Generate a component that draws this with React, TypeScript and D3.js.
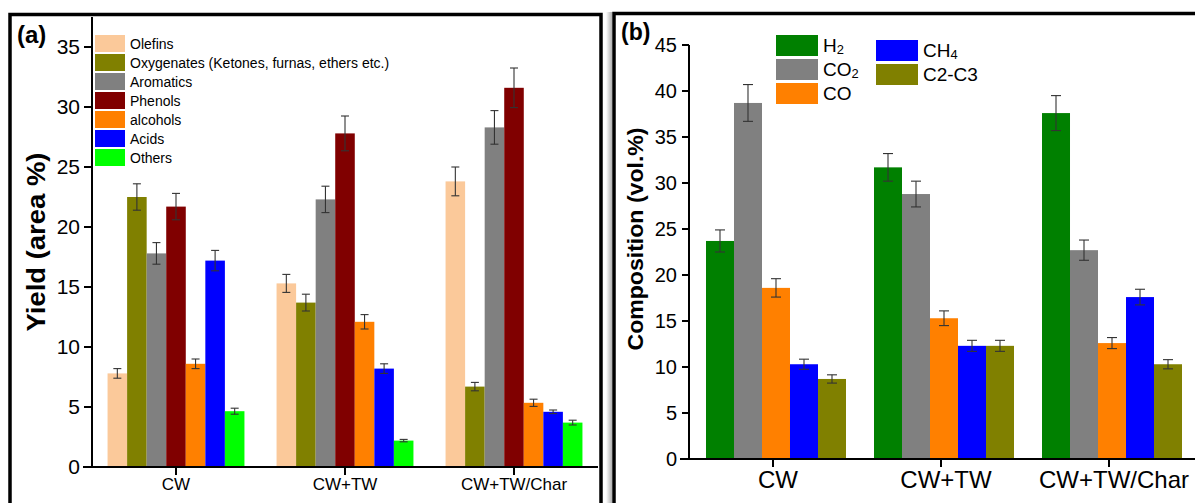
import React from "react";
import * as d3 from "d3";

const groups = ["CW", "CW+TW", "CW+TW/Char"];

const seriesA = [
  "Olefins",
  "Oxygenates (Ketones, furnas, ethers etc.)",
  "Aromatics",
  "Phenols",
  "alcohols",
  "Acids",
  "Others",
];
const colorsA = ["#FBC99A", "#808000", "#808080", "#800000", "#FF8000", "#0000FF", "#00FF00"];
const valuesA = [
  [7.8, 15.3, 23.8],
  [22.5, 13.7, 6.7],
  [17.8, 22.3, 28.3],
  [21.7, 27.8, 31.6],
  [8.6, 12.1, 5.35],
  [17.2, 8.2, 4.6],
  [4.65, 2.2, 3.7],
];
const errA = [
  [0.4, 0.75, 1.2],
  [1.1, 0.7, 0.35],
  [0.9, 1.1, 1.4],
  [1.1, 1.45, 1.65],
  [0.4, 0.6, 0.3],
  [0.85, 0.4, 0.15],
  [0.25, 0.1, 0.2],
];
const ticksA = [0, 5, 10, 15, 20, 25, 30, 35];

const seriesB = ["H2", "CO2", "CO", "CH4", "C2-C3"];
const colorsB = ["#008000", "#808080", "#FF8000", "#0000FF", "#808000"];
const valuesB = [
  [23.7, 31.7, 37.6],
  [38.7, 28.8, 22.7],
  [18.6, 15.3, 12.6],
  [10.3, 12.3, 17.6],
  [8.7, 12.3, 10.3],
];
const errB = [
  [1.2, 1.5, 1.9],
  [2.0, 1.4, 1.1],
  [1.0, 0.8, 0.6],
  [0.55, 0.6, 0.85],
  [0.45, 0.6, 0.5],
];
const ticksB = [0, 5, 10, 15, 20, 25, 30, 35, 40, 45];

const FONT = "'Liberation Sans', Arial, Helvetica, sans-serif";

function label(name: string, size: number) {
  const m = name.match(/^([A-Z]+)(\d)$/);
  if (m) {
    return (
      <>
        {m[1]}
        <tspan fontSize={size * 0.68} dy={2}>
          {m[2]}
        </tspan>
      </>
    );
  }
  return name;
}

function PanelA() {
  const y = d3.scaleLinear().domain([0, 37.5]).range([467, 17]);
  const x0 = d3.scaleBand().domain(groups).range([91.5, 598.5]).paddingInner(0.19).paddingOuter(0.095);
  const x1 = d3.scaleBand().domain(seriesA).range([0, x0.bandwidth()]).padding(0);
  const axisX = 92;
  return (
    <g>
      {seriesA.map((s, si) =>
        groups.map((g, gi) => {
          const v = valuesA[si][gi];
          const e = errA[si][gi];
          const bx = (x0(g) as number) + (x1(s) as number);
          const cx = bx + x1.bandwidth() / 2;
          return (
            <g key={s + g}>
              <rect x={bx} y={y(v)} width={x1.bandwidth()} height={y(0) - y(v)} fill={colorsA[si]} />
              <line x1={cx} x2={cx} y1={y(v - e)} y2={y(v + e)} stroke="#333" strokeWidth={1.1} />
              <line x1={cx - 4} x2={cx + 4} y1={y(v - e)} y2={y(v - e)} stroke="#333" strokeWidth={1.1} />
              <line x1={cx - 4} x2={cx + 4} y1={y(v + e)} y2={y(v + e)} stroke="#333" strokeWidth={1.1} />
            </g>
          );
        })
      )}
      <line x1={axisX} x2={axisX} y1={y(37.5)} y2={y(0)} stroke="#000" strokeWidth={2} />
      {ticksA.map((t) => (
        <g key={t}>
          <line x1={axisX - 8} x2={axisX} y1={y(t)} y2={y(t)} stroke="#000" strokeWidth={2} />
          <text x={axisX - 12} y={y(t) + 7} textAnchor="end" fontSize={21} fontFamily={FONT}>
            {t}
          </text>
        </g>
      ))}
      <line x1={83} x2={598} y1={y(0)} y2={y(0)} stroke="#000" strokeWidth={2} />
      {groups.map((g) => {
        const cx = (x0(g) as number) + x0.bandwidth() / 2;
        return (
          <g key={g}>
            <line x1={cx} x2={cx} y1={y(0)} y2={y(0) + 8} stroke="#000" strokeWidth={2} />
            <text x={cx} y={490} textAnchor="middle" fontSize={17} fontFamily={FONT}>
              {g}
            </text>
          </g>
        );
      })}
      <text
        transform="translate(45,242) rotate(-90)"
        textAnchor="middle"
        fontSize={25}
        fontWeight="bold"
        fontFamily={FONT}
        textLength={179}
        lengthAdjust="spacingAndGlyphs"
      >
        Yield (area %)
      </text>
      {seriesA.map((s, si) => (
        <g key={s}>
          <rect x={95} y={35 + si * 19} width={30} height={17} fill={colorsA[si]} />
          <text x={130} y={35 + si * 19 + 13.5} fontSize={14} fontFamily={FONT}>
            {s}
          </text>
        </g>
      ))}
      <text x={17} y={43} fontSize={24} fontWeight="bold" fontFamily={FONT}>
        (a)
      </text>
      <rect x={10} y={14.5} width={591} height={600} fill="none" stroke="#000" strokeWidth={3.5} />
    </g>
  );
}

function PanelB() {
  const y = d3.scaleLinear().domain([0, 45]).range([459, 45]);
  const x0 = d3.scaleBand().domain(groups).range([692, 1196]).paddingInner(0.1667).paddingOuter(0.0833);
  const x1 = d3.scaleBand().domain(seriesB).range([0, x0.bandwidth()]).padding(0);
  const axisX = 689;
  const legendPos = [
    { x: 776, y: 35 },
    { x: 776, y: 59 },
    { x: 776, y: 83 },
    { x: 876, y: 40 },
    { x: 876, y: 64 },
  ];
  return (
    <g>
      <defs>
        <linearGradient id="shadowB" x1="0" x2="1" y1="0" y2="0">
          <stop offset="0" stopColor="#ffffff" />
          <stop offset="1" stopColor="#b0b0b0" />
        </linearGradient>
      </defs>
      <rect x={606} y={12} width={6} height={600} fill="url(#shadowB)" />
      {seriesB.map((s, si) =>
        groups.map((g, gi) => {
          const v = valuesB[si][gi];
          const e = errB[si][gi];
          const bx = (x0(g) as number) + (x1(s) as number);
          const cx = bx + x1.bandwidth() / 2;
          return (
            <g key={s + g}>
              <rect x={bx} y={y(v)} width={x1.bandwidth()} height={y(0) - y(v)} fill={colorsB[si]} />
              <line x1={cx} x2={cx} y1={y(v - e)} y2={y(v + e)} stroke="#333" strokeWidth={1.1} />
              <line x1={cx - 5} x2={cx + 5} y1={y(v - e)} y2={y(v - e)} stroke="#333" strokeWidth={1.1} />
              <line x1={cx - 5} x2={cx + 5} y1={y(v + e)} y2={y(v + e)} stroke="#333" strokeWidth={1.1} />
            </g>
          );
        })
      )}
      <line x1={axisX} x2={axisX} y1={y(45)} y2={y(0)} stroke="#000" strokeWidth={2} />
      {ticksB.map((t) => (
        <g key={t}>
          <line x1={axisX - 7} x2={axisX} y1={y(t)} y2={y(t)} stroke="#000" strokeWidth={2} />
          <text x={axisX - 12} y={y(t) + 7} textAnchor="end" fontSize={20} fontFamily={FONT}>
            {t}
          </text>
        </g>
      ))}
      <line x1={680} x2={1195} y1={y(0)} y2={y(0)} stroke="#000" strokeWidth={2} />
      {groups.map((g) => {
        const cx = (x0(g) as number) + x0.bandwidth() / 2;
        return (
          <g key={g}>
            <line x1={cx - 3} x2={cx - 3} y1={y(0)} y2={y(0) + 8} stroke="#000" strokeWidth={2} />
            <text x={cx + 2} y={488} textAnchor="middle" fontSize={24} fontFamily={FONT}>
              {g}
            </text>
          </g>
        );
      })}
      <text
        transform="translate(643,239) rotate(-90)"
        textAnchor="middle"
        fontSize={22}
        fontWeight="bold"
        fontFamily={FONT}
        textLength={223}
        lengthAdjust="spacingAndGlyphs"
      >
        Composition (vol.%)
      </text>
      {seriesB.map((s, si) => (
        <g key={s}>
          <rect x={legendPos[si].x} y={legendPos[si].y} width={42} height={21} fill={colorsB[si]} />
          <text x={legendPos[si].x + 47} y={legendPos[si].y + 17} fontSize={19} fontFamily={FONT}>
            {label(s, 19)}
          </text>
        </g>
      ))}
      <text x={621} y={40} fontSize={23} fontWeight="bold" fontFamily={FONT}>
        (b)
      </text>
      <rect x={614} y={13.5} width={700} height={600} fill="none" stroke="#000" strokeWidth={3.5} />
    </g>
  );
}

export default function App() {
  return (
    <svg
      width={1195}
      height={503}
      viewBox="0 0 1195 503"
      style={{ position: "absolute", left: 0, top: 0, background: "#fff" }}
    >
      <rect x={0} y={0} width={1195} height={503} fill="#fff" />
      <PanelA />
      <PanelB />
    </svg>
  );
}
